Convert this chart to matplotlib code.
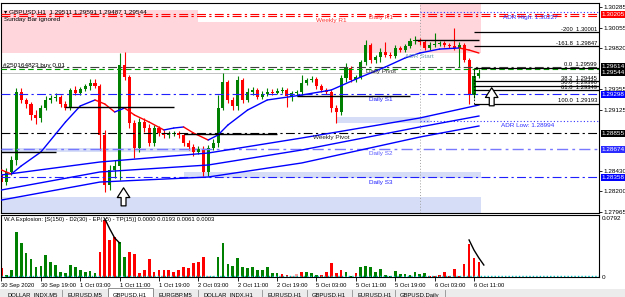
import matplotlib
matplotlib.use("Agg")
import matplotlib.pyplot as plt
import matplotlib.transforms as mtransforms
from matplotlib.patches import Rectangle

plt.rcParams['font.family'] = ['Liberation Sans', 'DejaVu Sans']

first_open = 1.28385
closes = [1.28305, 1.28419, 1.28555, 1.29325, 1.29235, 1.29189, 1.29065, 1.29031, 1.29144, 1.29235,
          1.29257, 1.29269, 1.29189, 1.29144, 1.29348, 1.29314, 1.29359, 1.29393, 1.29427, 1.29393,
          1.28838, 1.28271, 1.28441, 1.28487, 1.29631, 1.29495, 1.28974, 1.28691, 1.28985, 1.28917,
          1.28747, 1.28917, 1.28861, 1.28838, 1.28849, 1.28861, 1.28838, 1.28747, 1.28702, 1.28645,
          1.28679, 1.28419, 1.28691, 1.28747, 1.29144, 1.29439, 1.29235, 1.29167, 1.29461, 1.29235,
          1.29325, 1.29348, 1.29269, 1.29303, 1.29325, 1.29314, 1.29337, 1.29348, 1.29280, 1.29314,
          1.29325, 1.29427, 1.29461, 1.29473, 1.29393, 1.29348, 1.29325, 1.29144, 1.29099, 1.29484,
          1.29597, 1.29461, 1.29495, 1.29665, 1.29858, 1.29688, 1.29722, 1.29779, 1.29745, 1.29733,
          1.29824, 1.29801, 1.29847, 1.29903, 1.29915, 1.29892, 1.29824, 1.29858, 1.29869, 1.29881,
          1.29858, 1.29847, 1.29824, 1.29858, 1.29688, 1.29291, 1.29511, 1.29544]
highs = [1.28419, 1.28464, 1.28600, 1.29371, 1.29371, 1.29257, 1.29212, 1.29121, 1.29178, 1.29280,
         1.29291, 1.29314, 1.29291, 1.29223, 1.29371, 1.29393, 1.29382, 1.29416, 1.29473, 1.29473,
         1.29416, 1.28895, 1.28498, 1.28555, 1.29767, 1.29779, 1.29518, 1.29008, 1.29031, 1.29031,
         1.28963, 1.28951, 1.28940, 1.28895, 1.28883, 1.28883, 1.28883, 1.28861, 1.28781, 1.28736,
         1.28713, 1.28713, 1.28725, 1.28793, 1.29291, 1.29541, 1.29461, 1.29269, 1.29507, 1.29484,
         1.29371, 1.29382, 1.29371, 1.29337, 1.29371, 1.29359, 1.29371, 1.29382, 1.29371, 1.29337,
         1.29348, 1.29518, 1.29484, 1.29507, 1.29495, 1.29416, 1.29371, 1.29348, 1.29178, 1.29518,
         1.29654, 1.29620, 1.29518, 1.29688, 1.29915, 1.29881, 1.29745, 1.29824, 1.29892, 1.29779,
         1.29858, 1.29847, 1.29869, 1.29937, 1.29960, 1.29937, 1.29915, 1.29892, 1.29994, 1.29903,
         1.29903, 1.29881, 1.30051, 1.29892, 1.29881, 1.29711, 1.29599, 1.29591]
lows = [1.28260, 1.28271, 1.28385, 1.28498, 1.29201, 1.29144, 1.29008, 1.28963, 1.28985, 1.29121,
        1.29201, 1.29223, 1.29155, 1.29121, 1.29121, 1.29291, 1.29291, 1.29337, 1.29348, 1.29371,
        1.28668, 1.28192, 1.28215, 1.28351, 1.28328, 1.29461, 1.28917, 1.28577, 1.28645, 1.28872,
        1.28713, 1.28713, 1.28827, 1.28804, 1.28804, 1.28827, 1.28804, 1.28713, 1.28668, 1.28600,
        1.28623, 1.28373, 1.28373, 1.28668, 1.28702, 1.29121, 1.29201, 1.29121, 1.29121, 1.29201,
        1.29212, 1.29291, 1.29246, 1.29246, 1.29280, 1.29291, 1.29303, 1.29314, 1.29155, 1.29223,
        1.29280, 1.29291, 1.29405, 1.29439, 1.29359, 1.29325, 1.29303, 1.29099, 1.28974, 1.29065,
        1.29439, 1.29439, 1.29439, 1.29473, 1.29631, 1.29654, 1.29654, 1.29665, 1.29722, 1.29711,
        1.29711, 1.29779, 1.29779, 1.29824, 1.29869, 1.29858, 1.29801, 1.29801, 1.29835, 1.29847,
        1.29835, 1.29824, 1.29801, 1.29609, 1.29665, 1.29193, 1.29257, 1.29487]

# moyenne mobile rapide (bleue en hausse, rouge en baisse)
ma_bars = [0, 2, 4, 8, 13, 16, 19, 21, 23, 24, 25, 27, 30, 33, 35, 37, 39, 42, 44, 46, 50, 54,
           61, 67, 73, 78, 82, 85, 89, 93, 95, 97]
ma_fast = [1.28441, 1.28396, 1.28487, 1.28645, 1.28985, 1.29167, 1.29235, 1.29189, 1.29099, 1.29121,
           1.29144, 1.29065, 1.28985, 1.28895, 1.28917, 1.28929, 1.28861, 1.28781, 1.28838, 1.28951,
           1.29121, 1.29235, 1.29291, 1.29348, 1.29495, 1.29609, 1.29711, 1.29767, 1.29812, 1.29824,
           1.29801, 1.29767]

# trois moyennes lentes
slow_bars = [0, 20, 42, 61, 85, 97]
slow_1 = [1.28385, 1.28532, 1.28634, 1.28804, 1.29031, 1.29178]
slow_2 = [1.28215, 1.28419, 1.28498, 1.28668, 1.28929, 1.29053]
slow_3 = [1.28101, 1.28305, 1.28362, 1.28521, 1.28815, 1.28940]

# segments noirs (supports / resistances)
seg_prices = [1.28645, 1.29155, 1.28849, 1.29280, 1.29915]
seg_start = [0, 13, 37, 60, 84]
seg_end = [11, 35, 56, 83, 97]

# niveaux pivots / ADR
weekly_r1 = 1.30205
daily_r1 = 1.30181
adr_high = 1.30227
daily_pivot = 1.29614
order_price = 1.29586
bid = 1.29544
daily_s1 = 1.29298
adr_low = 1.28994
weekly_pivot = 1.28855
daily_s2 = 1.28674
daily_s3 = 1.28358

# fibonacci
fib_names = ["-200", "-161.8", "0.0", "38.2", "50.0", "61.8", "100.0"]
fib_prices = [1.30001, 1.29847, 1.29599, 1.29445, 1.29396, 1.29349, 1.29193]

# etiquettes de l'axe des prix
tag_prices = [1.30205, 1.29614, 1.29544, 1.29298, 1.28855, 1.28674, 1.28358]
tag_colors = ['#ff0000', '#000000', '#000000', '#0000ff', '#000000', '#2b2bff', '#0000ff']
price_ticks = [1.30285, 1.30055, 1.29820, 1.29355, 1.29125, 1.28430, 1.28200, 1.27965]

# Waddah Attar Explosion
wae_values = [0.0121, 0.0027, 0.0094, 0.0604, 0.0456, 0.0322, 0.0242, 0.0134, 0.0148, 0.0295,
              0.0201, 0.0161, 0.0067, 0.0054, 0.0161, 0.0134, 0.0094, 0.0067, 0.0081, 0.0054,
              0.0336, 0.0765, 0.0497, 0.0537, 0.0470, 0.0268, 0.0336, 0.0309, 0.0054, 0.0094,
              0.0242, 0.0067, 0.0094, 0.0094, 0.0094, 0.0067, 0.0094, 0.0134, 0.0121, 0.0188,
              0.0201, 0.0268, 0.0013, 0.0010, 0.0268, 0.0456, 0.0174, 0.0148, 0.0255, 0.0134,
              0.0121, 0.0134, 0.0094, 0.0094, 0.0134, 0.0054, 0.0054, 0.0040, 0.0027, 0.0013,
              0.0040, 0.0067, 0.0067, 0.0054, 0.0027, 0.0027, 0.0067, 0.0188, 0.0054, 0.0094,
              0.0067, 0.0013, 0.0054, 0.0134, 0.0148, 0.0134, 0.0067, 0.0107, 0.0027, 0.0013,
              0.0081, 0.0040, 0.0040, 0.0027, 0.0067, 0.0040, 0.0054, 0.0013, 0.0013, 0.0027,
              0.0067, 0.0013, 0.0107, 0.0013, 0.0174, 0.0443, 0.0255, 0.0201]
wae_kind = list("rggggggggggggggggggg" "rrrrggrrrrrrrrrrrrrr" "rrRGgggggggggggggrrR"
                "Rrgggrrrrrggrggggggg" "gggggggrrrrrrrrrrr")
wae_line_a_bars = [21, 22, 23, 24]
wae_line_a = [0.0780, 0.0645, 0.0523, 0.0456]
wae_line_b_bars = [95, 96, 97, 98]
wae_line_b = [0.0497, 0.0362, 0.0255, 0.0161]
dead_zone = 0.0008

time_ticks = [0, 8, 16, 24, 32, 40, 48, 56, 64, 72, 80, 88, 96]
time_labels = ["30 Sep 2020", "30 Sep 19:00", "1 Oct 03:00", "1 Oct 11:00", "1 Oct 19:00",
               "2 Oct 03:00", "2 Oct 11:00", "2 Oct 19:00", "5 Oct 03:00", "5 Oct 11:00",
               "5 Oct 19:00", "6 Oct 03:00", "6 Oct 11:00"]

tab_names = ["DOLLAR_INDX,M5", "EURUSD,M5", "GBPUSD,H1", "EURGBP,M5", "DOLLAR_INDX,H1",
             "EURUSD,H1", "GBPUSD,H1", "EURUSD,H1", "GBPUSD,Daily"]

# ---------------------------------------------------------------------------
W, H = 625, 297
BULL, BEAR = '#008000', '#ff0000'
FS = 4.6      # texte du graphique
FS_S = 4.2    # axe du temps, fibo, titre indicateur

fig = plt.figure(figsize=(W / 100, H / 100), dpi=100)
ax = fig.add_axes([1 / W, 1 - 213 / H, 598 / W, 210 / H])
axi = fig.add_axes([1 / W, 1 - 277 / H, 598 / W, 62 / H])

n = len(closes)
idx = list(range(n))
opens = [first_open] + closes[:-1]
x_max = 121.4

# zones (rose = resistance, bleu clair = support)
pink = '#ffd6dc'
lblue = '#d5def6'
for x0, x1, top in [(-1, 40, 1.30255), (40, 85, 1.30119), (85, 97.5, 1.30368)]:
    ax.add_patch(Rectangle((x0, 1.29767), x1 - x0, top - 1.29767, fc=pink, ec='none', zorder=0))
ax.add_patch(Rectangle((-1, 1.27954), 98.5, 1.28135 - 1.27954, fc=lblue, ec='none', zorder=0))
ax.add_patch(Rectangle((37, 1.28351), 60.5, 1.28419 - 1.28351, fc=lblue, ec='none', zorder=0))
ax.add_patch(Rectangle((68, 1.28974), 19, 1.29042 - 1.28974, fc=lblue, ec='none', zorder=0))
ax.add_patch(Rectangle((-1, 1.28645), 43, 1.28690 - 1.28645, fc=lblue, ec='none', zorder=0))

# separateur de jour
ax.axvline(85, color='#a0a0a0', lw=0.7, ls=(0, (1, 2)), zorder=1)

# lignes horizontales
dashdot = (0, (8, 3, 2, 3))
ax.axhline(weekly_r1, color='#ff0000', lw=0.8, ls=dashdot, zorder=3)
ax.axhline(daily_r1, color='#ff0000', lw=0.8, ls=dashdot, zorder=3)
ax.hlines(adr_high, 85, x_max, color='#3030ff', lw=0.8, ls=(0, (1, 2)), zorder=3)
ax.axhline(daily_pivot, color='#404040', lw=0.8, ls=dashdot, zorder=3)
ax.axhline(order_price, color='#00a000', lw=0.8, ls=(0, (5, 3)), zorder=3)
ax.axhline(bid, color='#b8b8b8', lw=0.6, zorder=1)
ax.axhline(daily_s1, color='#2020ff', lw=0.8, ls=dashdot, zorder=3)
ax.hlines(adr_low, 85, x_max, color='#3030ff', lw=0.8, ls=(0, (1, 2)), zorder=3)
ax.axhline(weekly_pivot, color='#000000', lw=0.8, ls=dashdot, zorder=3)
ax.axhline(daily_s2, color='#7878ff', lw=1.0, ls=dashdot, zorder=3)
ax.axhline(daily_s3, color='#2020ff', lw=0.8, ls=dashdot, zorder=3)

# moyennes lentes
for serie in (slow_1, slow_2, slow_3):
    ax.plot(slow_bars, serie, color='#0000ff', lw=1.0, zorder=3)

# bougies
colors = [BULL if c >= o else BEAR for o, c in zip(opens, closes)]
ax.vlines(idx, lows, highs, colors=colors, lw=0.8, zorder=2)
bodies = [max(abs(c - o), 0.00002) for o, c in zip(opens, closes)]
ax.bar(idx, bodies, bottom=[min(o, c) for o, c in zip(opens, closes)], width=0.62,
       color=colors, lw=0, zorder=2)

# moyenne rapide
for k in range(len(ma_bars) - 1):
    col = '#0000ff' if ma_fast[k + 1] >= ma_fast[k] else '#ff0000'
    ax.plot(ma_bars[k:k + 2], ma_fast[k:k + 2], color=col, lw=1.0, zorder=4,
            solid_capstyle='round')

# segments noirs
ax.hlines(seg_prices, seg_start, seg_end, color='black', lw=1.0, zorder=4)

# fibonacci
ax.hlines(fib_prices, 96, x_max, color='black', lw=0.9, zorder=4)
ax.vlines(96, fib_prices[-1], fib_prices[2], color='black', lw=0.6, ls=(0, (2, 2)), zorder=4)
for name, p in zip(fib_names, fib_prices):
    ax.text(x_max - 0.4, p + 0.00004, f"{name}  {p:.5f}", fontsize=FS_S, ha='right',
            va='bottom', color='black', zorder=5)

# fleches d'achat
for xa, ya in [(24.8, 1.28271), (99.6, 1.29405)]:
    ax.annotate("", xy=(xa, ya), xytext=(0, -17), textcoords='offset points',
                arrowprops=dict(arrowstyle="simple,head_length=0.7,head_width=0.9,tail_width=0.35",
                                fc='white', ec='black', lw=0.9), zorder=6)

# textes des niveaux
ax.text(63.8, 1.30141, "Weekly R1", color='#ff3030', fontsize=FS, va='center')
ax.text(74.6, 1.30172, "Daily R1", color='#ff3030', fontsize=FS, va='center')
ax.text(101.8, 1.30172, "ADR High: 1.30227", color='#3030ff', fontsize=FS, va='center')
ax.text(74.0, 1.29552, "Daily Pivot", color='#303030', fontsize=FS, va='center', zorder=5)
ax.text(82.0, 1.29722, "ADR Start", color='#6f9fb0', fontsize=FS, va='center', zorder=5)
ax.text(74.6, 1.29235, "Daily S1", color='#2020ff', fontsize=FS, va='center')
ax.text(63.2, 1.28804, "Weekly Pivot", color='#202020', fontsize=FS, va='center', zorder=5)
ax.text(74.6, 1.28623, "Daily S2", color='#5a5aff', fontsize=FS, va='center')
ax.text(74.6, 1.28305, "Daily S3", color='#2020ff', fontsize=FS, va='center')
ax.text(101.4, 1.28940, "ADR Low: 1.28994", color='#3030ff', fontsize=FS, va='center')
ax.text(0.3, 1.29631, "#250164823 buy 0.01", color='black', fontsize=FS, va='center', zorder=5)

# axe des prix
ax.set_xlim(-0.1, x_max)
ax.set_ylim(1.27954, 1.30334)
ax.set_xticks([])
ax.yaxis.tick_right()
ax.set_yticks(price_ticks)
ax.set_yticklabels([f"{p:.5f}" for p in price_ticks])
ax.tick_params(axis='y', length=2, width=0.6, labelsize=FS, pad=1)
for s in ax.spines.values():
    s.set_linewidth(0.8)
tr = mtransforms.blended_transform_factory(ax.transAxes, ax.transData)
for p, c in zip(tag_prices, tag_colors):
    ax.text(1.004, p, f"{p:.5f}", transform=tr, fontsize=FS, color='white', va='center',
            ha='left', bbox=dict(fc=c, ec='none', pad=0.5), clip_on=False, zorder=7)

# en-tete
fig.text(4 / W, 1 - 12 / H, "\u25be GBPUSD,H1  1.29511 1.29591 1.29487 1.29544", fontsize=FS,
         va='center')
fig.text(4 / W, 1 - 20 / H, "Sunday Bar ignored", fontsize=FS, va='center')

# indicateur
kind_col = {'g': '#008000', 'r': '#ff0000', 'G': '#90d890', 'R': '#ffa0a0'}
axi.bar(idx, wae_values, width=0.55, color=[kind_col[k] for k in wae_kind], lw=0)
axi.plot(wae_line_a_bars, wae_line_a, color='black', lw=1.0)
axi.plot(wae_line_b_bars, wae_line_b, color='black', lw=1.0)
axi.axhline(dead_zone, color='#00c8c8', lw=1.0, ls=(0, (1, 1.5)))
axi.set_xlim(-0.1, x_max)
axi.set_ylim(0, 0.0832)
axi.yaxis.tick_right()
axi.set_yticks([0, 0.0792])
axi.set_yticklabels(["0", "0.0792"])
axi.tick_params(axis='y', length=0, labelsize=FS, pad=2)
axi.set_xticks(time_ticks)
axi.set_xticklabels(time_labels, ha='left')
axi.tick_params(axis='x', length=3, width=0.6, labelsize=FS_S, pad=1)
for s in axi.spines.values():
    s.set_linewidth(0.8)
axi.text(0.005, 0.93, "W.A Explosion: [S(150) - D2(30) - EP(15) - TP(15)] 0.0000 0.0193 0.0061 0.0003",
         transform=axi.transAxes, fontsize=FS_S, va='center')

# onglets en bas
fig.patches.append(Rectangle((0, 0), 1, 8 / H, transform=fig.transFigure, fc='#ececec',
                             ec='none', zorder=0))
seps = [2, 62, 108, 153, 198, 262, 307, 352, 395, 445]
for k, name in enumerate(tab_names):
    x0, x1 = seps[k], seps[k + 1]
    if k == 2:
        fig.patches.append(Rectangle((x0 / W, 0), (x1 - x0) / W, 9 / H, transform=fig.transFigure,
                                     fc='white', ec='#808080', lw=0.6))
    fig.text((x0 + 5) / W, 1 - 295 / H, name, fontsize=FS_S, va='center')
    fig.lines.append(plt.Line2D([x1 / W, x1 / W], [0, 7 / H], transform=fig.transFigure,
                                color='#909090', lw=0.6))

fig.savefig("out.png", dpi=100)
